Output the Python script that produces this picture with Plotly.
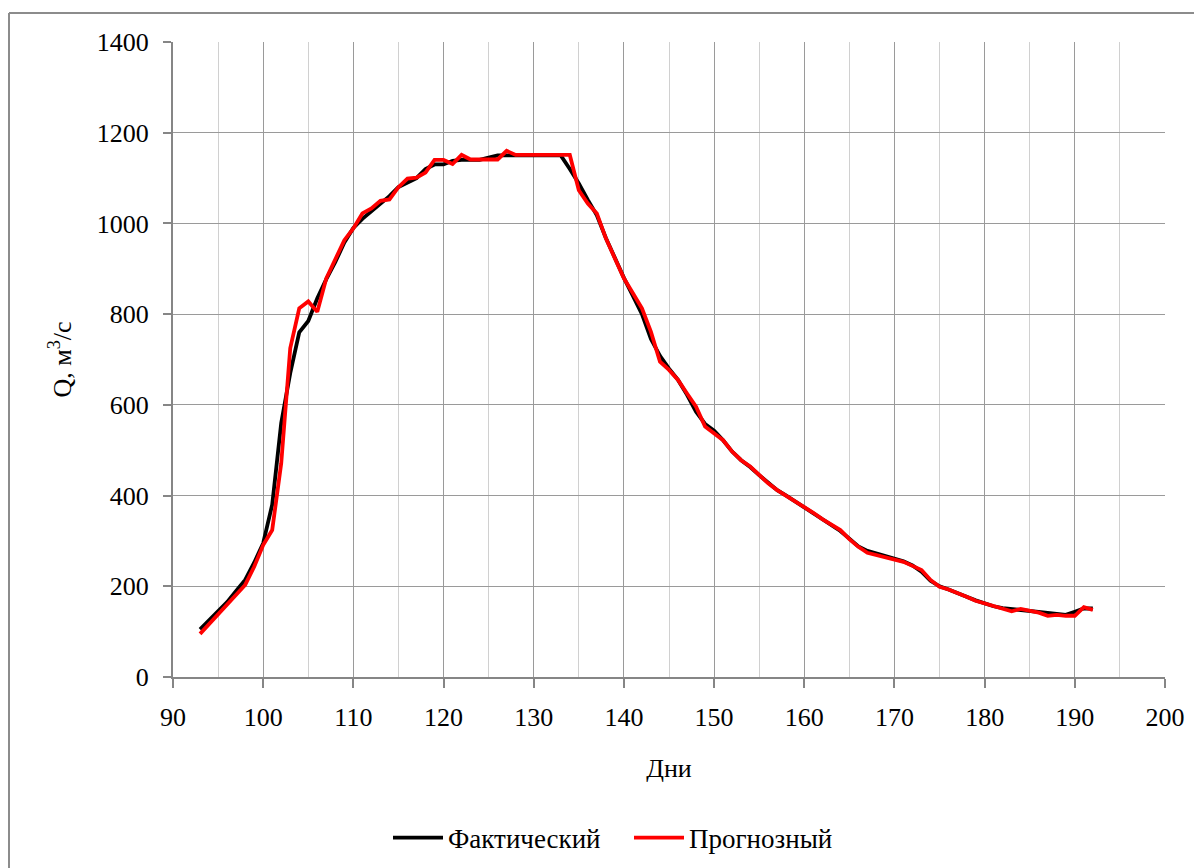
import plotly.graph_objects as go

days = list(range(93, 193))

fact = [105, 125, 145, 165, 190, 214, 252, 295, 380, 560,
        670, 760, 785, 835, 877, 915, 958, 990, 1010, 1027,
        1042, 1060, 1080, 1090, 1100, 1120, 1130, 1130, 1138, 1140,
        1140, 1140, 1145, 1150, 1150, 1150, 1150, 1150, 1150, 1150,
        1150, 1120, 1088, 1052, 1018, 968, 922, 880, 840, 800,
        745, 708, 680, 655, 622, 585, 558, 543, 522, 497,
        478, 463, 445, 428, 412, 400, 387, 374, 360, 347,
        335, 322, 305, 288, 278, 272, 268, 262, 255, 246,
        232, 212, 200, 193, 186, 177, 169, 162, 156, 152,
        150, 148, 146, 143, 140, 138, 137, 144, 151, 151]

forecast = [95, 117, 140, 162, 181, 203, 243, 291, 324, 471,
            725, 813, 828, 805, 879, 919, 963, 989, 1022, 1033,
            1050, 1053, 1080, 1099, 1101, 1112, 1140, 1140, 1131, 1151,
            1141, 1141, 1141, 1141, 1160, 1151, 1151, 1151, 1151, 1151,
            1151, 1151, 1073, 1044, 1022, 967, 923, 879, 846, 813,
            761, 695, 677, 655, 625, 596, 552, 537, 522, 497,
            478, 464, 445, 427, 412, 400, 387, 375, 362, 348,
            337, 324, 304, 287, 274, 269, 265, 260, 254, 245,
            236, 214, 199, 193, 186, 177, 168, 162, 155, 149,
            145, 150, 146, 142, 135, 137, 135, 135, 154, 148]

series_names = ["Фактический", "Прогнозный"]
x_title = "Дни"
y_title = "Q, м<sup>3</sup>/с"

FONT = "Liberation Serif, Times New Roman, serif"
FS = 26

fig = go.Figure()
fig.add_trace(go.Scatter(x=days, y=fact, mode="lines", name=series_names[0],
                         line=dict(color="#000000", width=3.8)))
fig.add_trace(go.Scatter(x=days, y=forecast, mode="lines", name=series_names[1],
                         line=dict(color="#ff0000", width=3.8)))

# page has an 8px body margin: figure origin is at page (8, 8)
OFF = 8
W, H = 1194, 860
L, T = 173 - OFF, 42 - OFF
R = W - (1165 - OFF)
B = H - (677 - OFF)
pw, ph = W - L - R, H - T - B

def px2x(px):  # page px -> paper x
    return (px - OFF - L) / pw

def py2y(py):  # page py -> paper y
    return (H - B - (py - OFF)) / ph

fig.update_layout(
    width=W, height=H,
    margin=dict(l=L, r=R, t=T, b=B, autoexpand=False),
    paper_bgcolor="white", plot_bgcolor="white",
    font=dict(family=FONT, size=FS, color="black"),
    showlegend=True,
    legend=dict(orientation="h", x=px2x(388), y=py2y(838),
                xanchor="left", yanchor="middle",
                font=dict(family=FONT, size=27, color="black"),
                itemwidth=50, entrywidth=176, entrywidthmode="pixels",
                bgcolor="rgba(0,0,0,0)", tracegroupgap=0),
    xaxis=dict(range=[90, 200], tick0=90, dtick=10, showgrid=True,
               gridcolor="#9a9a9a", gridwidth=1.3,
               minor=dict(dtick=5, showgrid=True, gridcolor="#d0d0d0", gridwidth=1.3),
               showline=True, linecolor="#868686", linewidth=2,
               ticks="outside", ticklen=9, tickcolor="#868686", tickwidth=1.5,
               zeroline=False, ticklabelstandoff=7,
               title=dict(text=x_title, standoff=28,
                          font=dict(family=FONT, size=FS, color="black"))),
    yaxis=dict(range=[0, 1400], tick0=0, dtick=200, showgrid=True,
               gridcolor="#9a9a9a", gridwidth=1.3,
               showline=True, linecolor="#868686", linewidth=2,
               ticks="outside", ticklen=8, tickcolor="#868686", tickwidth=1.5,
               zeroline=False, ticklabelstandoff=9,
               title=dict(text=y_title, standoff=18,
                          font=dict(family=FONT, size=FS, color="black"))),
)

# outer chart-area border (left and top edges visible)
border = dict(color="#8c8c8c", width=2)
fig.add_shape(type="line", xref="paper", yref="paper",
              x0=px2x(9), x1=px2x(1215), y0=py2y(13), y1=py2y(13), line=border)
fig.add_shape(type="line", xref="paper", yref="paper",
              x0=px2x(9), x1=px2x(9), y0=py2y(13), y1=py2y(880), line=border)

fig.write_html("out.html", config={"displayModeBar": False})
